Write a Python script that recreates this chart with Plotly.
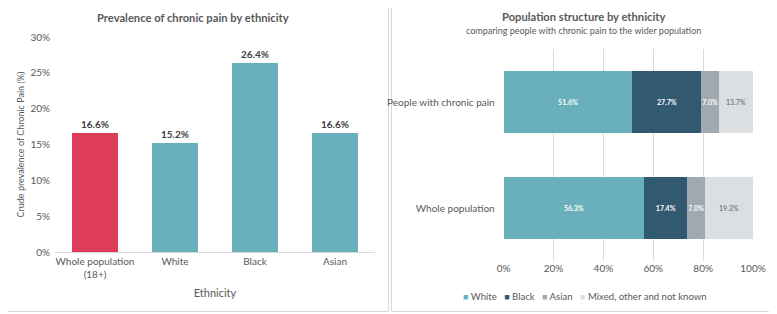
import plotly.graph_objects as go

# Left chart data
prev_categories = ["Whole population<br>(18+)", "White", "Black", "Asian"]
prev_values = [16.6, 15.2, 26.4, 16.6]
prev_colors = ["#DF3C5B", "#6AB0BC", "#6AB0BC", "#6AB0BC"]

# Right chart data
groups = ["Whole population", "People with chronic pain"]
series_names = ["White", "Black", "Asian", "Mixed, other and not known"]
series_values = {
    "White": [56.3, 51.6],
    "Black": [17.4, 27.7],
    "Asian": [7.0, 7.0],
    "Mixed, other and not known": [19.3, 13.7],
}
series_colors = ["#6AB0BC", "#31596F", "#A0A9B0", "#DCDFE2"]
series_text_colors = ["white", "white", "white", "#7F7F7F"]

FONT = "Lato"
GREY = "#595959"
W, H = 777, 314
OFF = 8  # page body margin offset

fig = go.Figure()

fig.add_trace(go.Bar(
    x=prev_categories, y=prev_values,
    marker=dict(color=prev_colors, line=dict(width=0)),
    text=[f"{v:.1f}%" for v in prev_values],
    textposition="outside",
    textfont=dict(family=FONT, size=10, color="#404040", weight="bold"),
    cliponaxis=False,
    showlegend=False,
    xaxis="x", yaxis="y",
))

for name, col, tcol in zip(series_names, series_colors, series_text_colors):
    vals = series_values[name]
    fig.add_trace(go.Bar(
        y=groups, x=vals, orientation="h", name=name,
        marker=dict(color=col, line=dict(width=0)),
        text=[f"{v:.1f}%" for v in vals],
        textposition="inside", insidetextanchor="middle",
        constraintext="none", textangle=0,
        textfont=dict(family=FONT, size=7, color=tcol, weight="bold"),
        showlegend=False,
        xaxis="x2", yaxis="y2",
    ))

def px_x(p):
    return (p - OFF) / W

def px_y(p):
    return 1 - (p - OFF) / H

fig.update_layout(
    width=W, height=H,
    margin=dict(l=0, r=0, t=0, b=0, autoexpand=False),
    paper_bgcolor="white", plot_bgcolor="white",
    font=dict(family=FONT, color=GREY, size=10),
    barmode="stack",
    bargap=0.42,
    xaxis=dict(domain=[px_x(55), px_x(375)], showgrid=False, showline=True,
               linecolor="#D9D9D9", linewidth=1, ticks="", automargin=False,
               tickfont=dict(size=10, color=GREY),
               title=dict(text="Ethnicity", font=dict(size=11, color=GREY), standoff=10),
               fixedrange=True),
    yaxis=dict(domain=[px_y(252), px_y(37)], range=[0, 30], dtick=5,
               ticksuffix="%", showgrid=False, zeroline=False, showline=False,
               automargin=False,
               tickfont=dict(size=10, color=GREY), ticklabelstandoff=4,
               title=dict(text="Crude prevalence of Chronic Pain (%)",
                          font=dict(size=9, color=GREY), standoff=4)),
    xaxis2=dict(domain=[px_x(503.7), px_x(753)], range=[0, 100], dtick=20,
                ticksuffix="%", showgrid=True, gridcolor="#D9D9D9", zeroline=False,
                automargin=False,
                tickfont=dict(size=10, color=GREY), anchor="y2"),
    yaxis2=dict(domain=[px_y(261), px_y(49)], anchor="x2", automargin=False,
                categoryorder="array", categoryarray=groups,
                tickfont=dict(size=10, color=GREY), ticklabelstandoff=8,
                showgrid=False),
    showlegend=False,
)

# panel borders
fig.add_shape(type="rect", xref="paper", yref="paper",
              x0=px_x(2.5), x1=px_x(388.5), y0=px_y(311.5), y1=px_y(2.5),
              line=dict(color="#D9D9D9", width=1), layer="below")
fig.add_shape(type="rect", xref="paper", yref="paper",
              x0=px_x(391.5), x1=px_x(775.5), y0=px_y(311.5), y1=px_y(2.5),
              line=dict(color="#D9D9D9", width=1), layer="below")

# legend built from series names and colours
legend_text = "&nbsp;&nbsp;&nbsp;".join(
    f"<span style='color:{c}; font-size:9px'>■</span> {n}"
    for n, c in zip(series_names, series_colors)
)
fig.add_annotation(text=legend_text, xref="paper", yref="paper",
                   x=px_x(585), y=px_y(296), showarrow=False,
                   font=dict(size=9.6, color=GREY),
                   xanchor="center", yanchor="middle")

# titles
fig.add_annotation(text="<b>Prevalence of chronic pain by ethnicity</b>",
                   xref="paper", yref="paper", x=px_x(193), y=px_y(18),
                   showarrow=False, font=dict(size=11.2, color=GREY),
                   xanchor="center", yanchor="middle")
fig.add_annotation(text="<b>Population structure by ethnicity</b>",
                   xref="paper", yref="paper", x=px_x(583), y=px_y(17),
                   showarrow=False, font=dict(size=11.2, color=GREY),
                   xanchor="center", yanchor="middle")
fig.add_annotation(text="comparing people with chronic pain to the wider population",
                   xref="paper", yref="paper", x=px_x(583), y=px_y(31),
                   showarrow=False, font=dict(size=9, color=GREY),
                   xanchor="center", yanchor="middle")

fig.write_html("out.html")
